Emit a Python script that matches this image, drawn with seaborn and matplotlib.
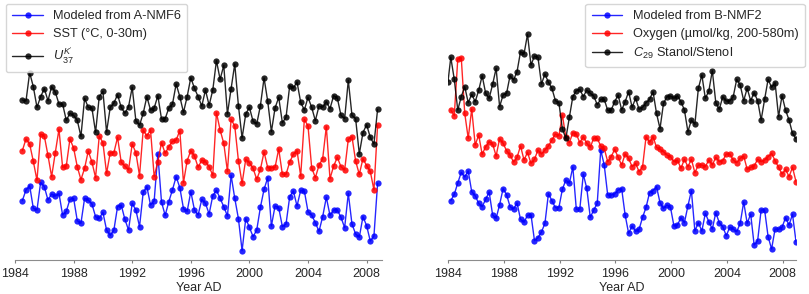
import numpy as np
import matplotlib
matplotlib.use("Agg")
import matplotlib.pyplot as plt
import seaborn as sns

# quarterly sample times
year_a = np.arange(1984.5, 2008.76, 0.25)
year_b = np.arange(1984.2, 2008.96, 0.25)
year_b_stanol = np.concatenate([[1984.0], year_b])

# panel A, relative units (series stacked for display)
nmf_a6 = [18.8, 22.0, 23.3, 16.5, 16.0, 24.3, 23.0, 19.0, 20.8, 20.2, 21.0, 14.5, 15.6, 19.2, 19.5, 12.8, 12.0,
          19.5, 19.0, 17.8, 14.0, 13.5, 15.3, 10.0, 8.4, 10.0, 17.0, 17.5, 13.2, 10.0, 18.0, 16.0, 11.0, 21.3,
          23.0, 17.5, 18.8, 32.8, 18.4, 14.4, 18.5, 22.1, 26.0, 22.7, 16.4, 15.6, 21.5, 16.0, 14.5,
          19.2, 18.0, 14.8, 20.3, 21.9, 19.5, 17.0, 14.2, 26.4, 19.5, 13.4, 3.8, 13.4, 10.8, 8.0, 10.0, 16.8,
          22.2, 25.7, 11.2, 17.2, 16.7, 11.0, 11.8, 20.0, 21.7, 17.2, 21.9, 21.7, 15.5, 14.5, 12.2, 9.6, 14.0,
          19.8, 14.4, 16.0, 16.0, 13.8, 10.7, 21.0, 11.8, 8.8, 7.8, 14.0, 11.3, 6.7, 8.2, 24.0]
sst = [33.8, 37.3, 35.8, 30.6, 24.9, 38.8, 38.2, 32.4, 26.0, 33.2, 40.2, 28.8, 29.2, 37.3, 34.6, 29.0, 25.1,
       28.5, 33.7, 30.4, 25.7, 38.2, 36.2, 27.0, 33.2, 33.2, 37.8, 30.3, 29.2, 28.0, 35.8, 33.2, 26.3, 40.0,
       38.2, 40.0, 26.0, 30.5, 36.2, 33.0, 35.0, 36.6, 37.0, 39.8, 24.2, 30.8, 33.8, 32.2, 28.8,
       31.0, 30.5, 29.0, 26.4, 45.2, 40.0, 36.0, 27.6, 43.2, 41.2, 30.8, 24.0, 31.2, 30.2, 28.5, 25.2, 28.2,
       33.4, 28.7, 28.7, 28.8, 34.3, 26.7, 26.7, 30.4, 32.7, 33.8, 26.2, 43.2, 41.2, 28.7, 25.7, 29.4, 31.4,
       41.0, 25.4, 29.2, 31.8, 29.0, 28.0, 37.2, 38.0, 30.7, 26.7, 31.4, 29.3, 27.6, 22.0, 41.5]
uk37 = [49.0, 48.7, 57.2, 53.0, 46.8, 50.0, 52.4, 48.8, 53.0, 51.4, 47.8, 47.8, 42.9, 45.0, 44.4, 42.9, 38.1,
        49.5, 46.8, 46.6, 39.3, 50.0, 51.6, 39.4, 46.8, 48.1, 50.6, 46.8, 45.0, 47.0, 52.8, 42.8, 41.4, 45.0,
        50.0, 46.0, 46.6, 50.3, 43.3, 43.4, 46.6, 47.8, 53.8, 50.0, 45.3, 50.0, 55.7, 52.5, 50.0,
        47.2, 52.0, 47.4, 52.0, 60.8, 55.2, 59.4, 44.8, 52.4, 59.8, 47.3, 37.6, 44.8, 46.8, 42.6, 41.8, 47.3,
        55.6, 48.6, 39.5, 46.6, 49.8, 42.2, 43.8, 53.3, 52.6, 54.4, 48.3, 46.0, 49.8, 46.8, 42.8, 47.2, 46.8,
        48.5, 46.4, 50.3, 49.6, 44.4, 43.4, 54.9, 44.4, 43.4, 32.8, 39.2, 41.6, 37.8, 35.8, 46.2]

# panel B
nmf_b2 = [18.8, 20.7, 24.1, 27.3, 25.9, 27.7, 21.5, 20.3, 18.0, 17.0, 19.2, 21.4, 14.5, 13.5, 17.6, 22.4,
          20.6, 17.0, 16.3, 18.1, 13.2, 12.3, 14.4, 14.6, 6.8, 7.7, 9.4, 12.0, 20.9, 18.8, 16.7, 16.7, 22.2,
          25.0, 24.0, 28.9, 16.2, 16.3, 26.7, 22.5, 13.8, 16.0, 18.0,
          34.0, 29.5, 20.5, 20.5, 20.8, 22.0, 22.4, 14.5, 9.0, 11.2, 9.6, 10.2, 13.8, 16.8, 21.2, 21.8, 23.0,
          18.2, 16.5, 17.5, 16.8, 11.2, 11.5, 13.7, 12.2, 17.2, 21.8, 9.7, 12.2, 9.7, 15.0, 12.5, 10.3, 15.2,
          12.2, 11.0, 8.3, 10.8, 10.3, 9.5, 12.0, 18.4, 12.0, 14.8, 5.5, 6.8, 16.0, 16.0, 8.0, 4.3, 10.3,
          10.2, 10.8, 13.7, 11.5, 14.7, 6.5]
oxygen = [46.0, 44.3, 61.3, 61.7, 45.0, 37.5, 46.3, 35.5, 38.5, 32.7, 35.0, 36.5, 35.8, 32.2, 37.4, 36.0,
          33.8, 32.5, 30.4, 31.8, 35.2, 31.0, 33.3, 30.0, 31.2, 34.0, 32.8, 34.0, 35.2, 37.0, 38.8, 38.2, 44.5,
          37.8, 36.2, 39.2, 38.8, 36.2, 38.0, 36.0, 34.8, 37.6, 37.5,
          35.2, 34.5, 30.5, 32.0, 34.2, 31.8, 29.5, 32.8, 31.5, 29.0, 30.0, 27.5, 29.0, 38.0, 36.3, 38.0, 34.8,
          34.2, 33.5, 32.5, 32.0, 30.5, 31.0, 28.5, 31.2, 29.0, 31.2, 27.2, 29.5, 29.5, 29.0, 31.0, 29.5, 31.8,
          30.5, 30.8, 32.8, 32.8, 31.0, 30.2, 31.5, 32.2, 28.2, 28.8, 29.2, 31.2, 30.5, 31.0, 32.0, 33.0, 30.8,
          28.8, 26.8, 28.2, 26.0, 28.8, 24.5]
stanol = [54.5,
          61.8, 55.2, 46.0, 50.0, 53.0, 48.2, 50.7, 48.5, 51.9, 56.3, 51.0, 49.5, 53.7, 58.5, 47.0, 50.5, 51.0,
          56.3, 55.0, 57.5, 63.5, 62.8, 68.7, 59.5, 62.2, 61.8, 53.8, 56.8, 54.3, 52.5, 48.8, 48.2, 40.3, 37.5,
          43.8, 50.0, 51.8, 52.2, 50.0, 52.0, 51.0, 50.2, 47.6, 49.2, 49.2, 45.9,
          46.0, 48.5, 50.5, 46.0, 48.5, 51.5, 46.8, 49.5, 46.2, 46.8, 48.2, 49.2, 51.5, 45.0, 40.4, 48.0, 50.0,
          50.2, 49.5, 50.3, 48.5, 46.0, 39.5, 43.0, 41.7, 52.5, 56.5, 49.5, 51.7, 57.8, 48.2, 46.2, 50.0, 48.7,
          48.7, 50.0, 55.2, 53.5, 48.8, 52.5, 48.8, 51.2, 48.8, 43.0, 49.2, 55.2, 52.8, 54.2, 44.0, 50.3, 46.0,
          43.0, 39.0, 37.4]

labels_a = ["Modeled from A-NMF6", "SST (\u00b0C, 0-30m)", "$U^{K'}_{37}$"]
labels_b = ["Modeled from B-NMF2", "Oxygen (\u00b5mol/kg, 200-580m)", "$C_{29}$ Stanol/Stenol"]
colors = ["#0000ff", "#ff0000", "#000000"]
year_ticks = [1984, 1988, 1992, 1996, 2000, 2004, 2008]

sns.set_style("white")
plt.rcParams["font.family"] = ["Liberation Sans", "DejaVu Sans"]
plt.rcParams["mathtext.fontset"] = "custom"
plt.rcParams["mathtext.rm"] = "Liberation Sans"
plt.rcParams["mathtext.it"] = "Liberation Sans:italic"
plt.rcParams["font.size"] = 9

fig = plt.figure(figsize=(8.09, 2.94), dpi=100)
ax1 = fig.add_axes([15 / 809, 34 / 294, 367 / 809, 260 / 294])
ax2 = fig.add_axes([448 / 809, 34 / 294, 348 / 809, 260 / 294])


def draw(ax, xs, ys, labels):
    for x, y, lab, c in zip(xs, ys, labels, colors):
        sns.lineplot(x=x, y=y, ax=ax, color=c, marker="o", markersize=4.5, mec=c, mew=0,
                     lw=1, alpha=0.85, label=lab)
    ax.set_ylim(1, 79)
    ax.set_yticks([])
    ax.set_ylabel("")
    ax.set_xticks(year_ticks)
    ax.set_xlabel("Year AD", labelpad=2)
    ax.tick_params(axis="x", length=2.5, width=0.8, color="0.5", pad=3, labelsize=9, bottom=True)
    sns.despine(ax=ax, left=True)
    ax.spines["bottom"].set_color("0.55")
    ax.spines["bottom"].set_linewidth(0.8)


draw(ax1, [year_a, year_a, year_a], [nmf_a6, sst, uk37], labels_a)
ax1.set_xlim(1984, 2009.05)
ax1.legend(loc="upper left", bbox_to_anchor=(-0.025, 0.985), borderaxespad=0, fontsize=9.2,
           labelspacing=0.45, handlelength=2.4, borderpad=0.5)

draw(ax2, [year_b, year_b, year_b_stanol], [nmf_b2, oxygen, stanol], labels_b)
ax2.set_xlim(1984, 2008.95)
ax2.legend(loc="upper right", bbox_to_anchor=(1.025, 0.985), borderaxespad=0, fontsize=9.2,
           labelspacing=0.45, handlelength=2.4, borderpad=0.5)

fig.savefig("out.png", dpi=100)
